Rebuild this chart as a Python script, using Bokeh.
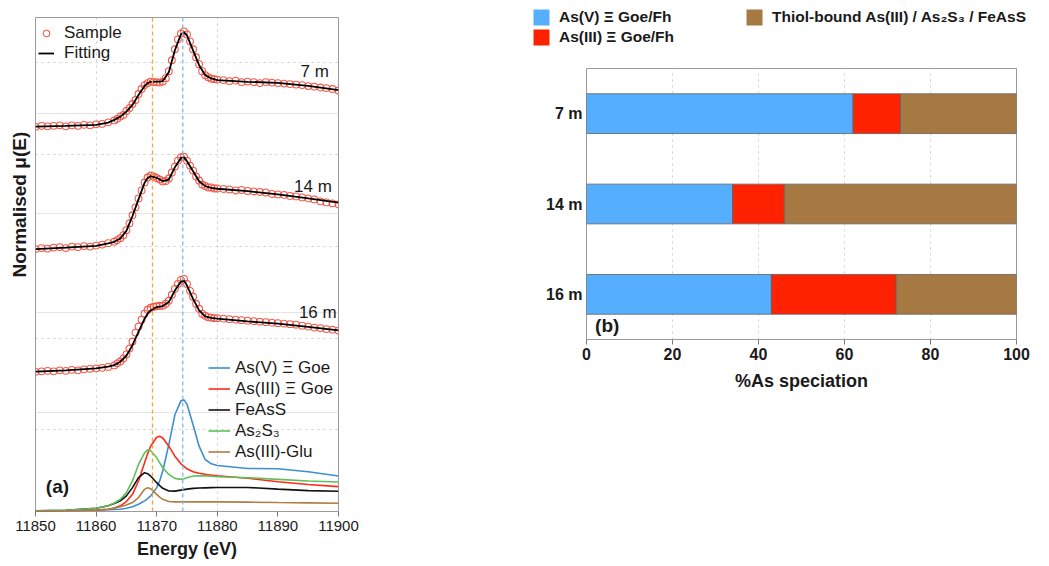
from bokeh.plotting import figure
from bokeh.models import (Range1d, FactorRange, FixedTicker, Grid, Span, Label, Title,
                          Legend, LegendItem, ColumnDataSource)
from bokeh.layouts import row, column
from bokeh.embed import file_html
from bokeh.resources import INLINE

FONT = "Liberation Sans"

# ---------------- Panel (a): XANES spectra ----------------
X_TICKS = [11850, 11860, 11870, 11880, 11890, 11900]
X_GRID = [11860, 11880]
Y_GRID = [0.82, 1.743, 2.667, 3.59, 4.514]
EDGE_LINES = [11869.3, 11874.3]

E_LINE = [11850, 11855, 11860, 11862, 11863, 11864, 11865, 11866, 11867, 11868,
          11868.5, 11869, 11870, 11870.5, 11871, 11872, 11873, 11874, 11874.5, 11875,
          11876, 11877, 11878, 11879, 11880, 11885, 11890, 11895, 11900]

FIT_7M = [3.873, 3.880, 3.890, 3.913, 3.940, 3.973, 4.023, 4.090, 4.190, 4.280,
          4.310, 4.323, 4.325, 4.325, 4.330, 4.420, 4.640, 4.800, 4.823, 4.790,
          4.640, 4.490, 4.390, 4.357, 4.340, 4.323, 4.313, 4.283, 4.240]
FIT_14M = [2.640, 2.655, 2.673, 2.697, 2.713, 2.747, 2.823, 2.973, 3.140, 3.307,
           3.355, 3.373, 3.357, 3.340, 3.323, 3.340, 3.463, 3.557, 3.563, 3.523,
           3.423, 3.323, 3.273, 3.257, 3.247, 3.223, 3.190, 3.150, 3.107]
FIT_16M = [1.407, 1.420, 1.440, 1.457, 1.473, 1.507, 1.567, 1.673, 1.807, 1.940,
           1.990, 2.023, 2.057, 2.062, 2.067, 2.107, 2.223, 2.313, 2.323, 2.273,
           2.140, 2.023, 1.963, 1.947, 1.940, 1.913, 1.890, 1.857, 1.823]

REF_ASV = [0.007, 0.008, 0.013, 0.017, 0.020, 0.023, 0.033, 0.047, 0.073, 0.107,
           0.130, 0.157, 0.240, 0.310, 0.407, 0.673, 0.973, 1.113, 1.123, 1.080,
           0.873, 0.657, 0.523, 0.480, 0.463, 0.433, 0.430, 0.400, 0.357]
REF_ASIII = [0.007, 0.008, 0.015, 0.023, 0.035, 0.057, 0.100, 0.173, 0.307, 0.490,
             0.580, 0.657, 0.747, 0.757, 0.740, 0.657, 0.557, 0.480, 0.455, 0.430,
             0.400, 0.385, 0.375, 0.367, 0.360, 0.335, 0.300, 0.272, 0.250]
REF_FEASS = [0.007, 0.012, 0.033, 0.057, 0.080, 0.107, 0.157, 0.240, 0.340, 0.390,
             0.380, 0.357, 0.290, 0.260, 0.233, 0.207, 0.205, 0.215, 0.220, 0.225,
             0.233, 0.236, 0.238, 0.240, 0.242, 0.242, 0.225, 0.210, 0.203]
REF_AS2S3 = [0.007, 0.012, 0.033, 0.057, 0.085, 0.123, 0.190, 0.307, 0.473, 0.590,
             0.620, 0.613, 0.540, 0.490, 0.440, 0.373, 0.333, 0.323, 0.330, 0.340,
             0.357, 0.360, 0.358, 0.355, 0.350, 0.340, 0.323, 0.307, 0.297]
REF_GLU = [0.004, 0.008, 0.015, 0.023, 0.033, 0.047, 0.065, 0.090, 0.140, 0.223,
           0.240, 0.230, 0.173, 0.145, 0.123, 0.100, 0.097, 0.097, 0.097, 0.097,
           0.097, 0.097, 0.097, 0.097, 0.097, 0.094, 0.090, 0.087, 0.083]

E_SAMPLE = [11850, 11851, 11852, 11853, 11854, 11855, 11856, 11857, 11858, 11859,
            11860, 11861, 11862,
            11863, 11863.5, 11864, 11864.5, 11865, 11865.5, 11866, 11866.5, 11867, 11867.5,
            11868, 11868.5, 11869, 11869.5, 11870, 11870.5, 11871, 11871.5, 11872, 11872.5,
            11873, 11873.5, 11874, 11874.5, 11875, 11875.5, 11876, 11876.5, 11877, 11877.5,
            11878, 11878.5, 11879, 11879.5, 11880,
            11881, 11882, 11883, 11884, 11885, 11886, 11887, 11888, 11889, 11890,
            11891, 11892, 11893, 11894, 11895, 11896, 11897, 11898, 11899, 11900]

SAMPLE_7M = [3.870, 3.880, 3.875, 3.880, 3.885, 3.875, 3.885, 3.880, 3.890, 3.885,
             3.895, 3.900, 3.915,
             3.935, 3.950, 3.975, 3.990, 4.030, 4.060, 4.100, 4.140, 4.200, 4.250,
             4.290, 4.310, 4.325, 4.320, 4.320, 4.315, 4.325, 4.360, 4.430, 4.540,
             4.650, 4.750, 4.810, 4.830, 4.800, 4.730, 4.650, 4.570, 4.500, 4.430,
             4.390, 4.370, 4.355, 4.350, 4.345,
             4.340, 4.330, 4.335, 4.320, 4.325, 4.320, 4.310, 4.320, 4.315, 4.310,
             4.305, 4.300, 4.295, 4.290, 4.280, 4.275, 4.265, 4.260, 4.250, 4.235]
SAMPLE_14M = [2.640, 2.650, 2.645, 2.655, 2.660, 2.650, 2.665, 2.660, 2.670, 2.665,
              2.675, 2.685, 2.700,
              2.715, 2.730, 2.750, 2.780, 2.830, 2.900, 2.980, 3.060, 3.150, 3.230,
              3.310, 3.360, 3.380, 3.370, 3.355, 3.340, 3.320, 3.325, 3.350, 3.410,
              3.470, 3.530, 3.565, 3.570, 3.530, 3.480, 3.430, 3.370, 3.330, 3.290,
              3.275, 3.260, 3.260, 3.250, 3.250,
              3.245, 3.240, 3.230, 3.235, 3.225, 3.220, 3.215, 3.210, 3.195, 3.190,
              3.185, 3.175, 3.170, 3.160, 3.150, 3.140, 3.120, 3.110, 3.100, 3.090]
SAMPLE_16M = [1.405, 1.410, 1.415, 1.410, 1.420, 1.415, 1.425, 1.420, 1.430, 1.435,
              1.440, 1.445, 1.455,
              1.470, 1.490, 1.510, 1.540, 1.580, 1.640, 1.710, 1.800, 1.860, 1.930,
              1.990, 2.030, 2.050, 2.060, 2.065, 2.070, 2.070, 2.090, 2.120, 2.180,
              2.240, 2.290, 2.330, 2.340, 2.290, 2.220, 2.160, 2.090, 2.040, 1.990,
              1.970, 1.955, 1.950, 1.945, 1.945,
              1.940, 1.935, 1.930, 1.925, 1.920, 1.915, 1.910, 1.905, 1.900, 1.895,
              1.890, 1.885, 1.880, 1.870, 1.860, 1.850, 1.845, 1.835, 1.830, 1.820]

SPECTRA = [("7 m", SAMPLE_7M, FIT_7M), ("14 m", SAMPLE_14M, FIT_14M), ("16 m", SAMPLE_16M, FIT_16M)]
DEPTH_LABEL_POS = [(11898.4, 4.43), (11898.9, 3.265), (11899.7, 2.0)]

REFS = [("As(V) Ξ Goe", REF_ASV, "#3D8FD1"),
        ("As(III) Ξ Goe", REF_ASIII, "#FF2A1A"),
        ("FeAsS", REF_FEASS, "#111111"),
        ("As₂S₃", REF_AS2S3, "#5CC15C"),
        ("As(III)-Glu", REF_GLU, "#B07E45")]

# ---------------- Panel (b): speciation bars ----------------
DEPTHS = ["7 m", "14 m", "16 m"]
AS_V = [62, 34, 43]
AS_III = [11, 12, 29]
THIOL = [27, 54, 28]
B_TICKS = [0, 20, 40, 60, 80, 100]
B_LABELS = ["As(V) Ξ Goe/Fh", "As(III) Ξ Goe/Fh", "Thiol-bound As(III) / As₂S₃ / FeAsS"]
B_COLORS = ["#56AEFF", "#FF2200", "#A67943"]

TXT = "#1a1a1a"

# ======== figure (a) ========
pa = figure(frame_width=303, frame_height=494, min_border_left=35, min_border_right=22,
            min_border_top=17, min_border_bottom=0, frame_align=False,
            x_range=Range1d(11850, 11900), y_range=Range1d(0, 4.97),
            y_axis_location=None, output_backend="svg", toolbar_location=None)
pa.outline_line_color = "#9b9b9b"
pa.outline_line_width = 1
pa.xaxis.ticker = FixedTicker(ticks=X_TICKS)
pa.xaxis.axis_line_color = None
pa.xaxis.major_tick_out = 5
pa.xaxis.major_tick_in = 0
pa.xaxis.minor_tick_out = 0
pa.xaxis.major_tick_line_color = "#7a7a7a"
pa.xaxis.major_label_standoff = 4
pa.xaxis.major_label_text_font = FONT
pa.xaxis.major_label_text_font_size = "15px"
pa.xaxis.major_label_text_color = TXT
pa.xaxis.axis_label = "Energy (eV)"
pa.xaxis.axis_label_standoff = 5
pa.xaxis.axis_label_text_font = FONT
pa.xaxis.axis_label_text_font_size = "18px"
pa.xaxis.axis_label_text_font_style = "bold"
pa.xaxis.axis_label_text_color = TXT
pa.xgrid.ticker = FixedTicker(ticks=X_GRID)
pa.xgrid.grid_line_dash = "dotted"
pa.xgrid.grid_line_color = "#cccccc"
pa.add_layout(Grid(dimension=1, ticker=FixedTicker(ticks=Y_GRID),
                   grid_line_dash="dotted", grid_line_color="#cccccc"))

ref_renderers = []
for name, vals, col in REFS:
    r = pa.line(E_LINE, vals, line_color=col, line_width=1.6)
    ref_renderers.append((name, r))

first = None
for name, samp, fit in SPECTRA:
    rs = pa.scatter(E_SAMPLE, samp, marker="circle", size=6.8, fill_color=None,
                    line_color="#F0594B", line_width=1.1)
    rf = pa.line(E_LINE, fit, line_color="black", line_width=1.8)
    if first is None:
        first = (rs, rf)

for loc, col in zip(EDGE_LINES, ["#F7A43A", "#86B6E0"]):
    pa.add_layout(Span(location=loc, dimension="height", line_color=col,
                       line_dash="4 3", line_width=1.3))

for (name, _, _), (lx, ly) in zip(SPECTRA, DEPTH_LABEL_POS):
    pa.add_layout(Label(x=lx, y=ly, text=name, text_align="right", text_baseline="middle",
                        text_font=FONT, text_font_size="17px", text_color=TXT))

pa.add_layout(Label(x=11851.7, y=0.255, text="(a)", text_align="left", text_baseline="middle",
                    text_font=FONT, text_font_size="19px", text_font_style="bold",
                    text_color=TXT))
pa.add_layout(Title(text="Normalised μ(E)", align="left", offset=234, vertical_align="bottom",
                    standoff=12, text_font=FONT, text_font_size="19px",
                    text_font_style="bold", text_color=TXT), "left")

leg1 = Legend(items=[LegendItem(label="Sample", renderers=[first[0]]),
                     LegendItem(label="Fitting", renderers=[first[1]])],
              location=(3, 448), glyph_width=16, glyph_height=20, label_height=20,
              spacing=0, padding=0, margin=0, label_standoff=10,
              label_text_font=FONT, label_text_font_size="17px", label_text_color=TXT,
              background_fill_alpha=0, border_line_color=None)
leg2 = Legend(items=[LegendItem(label=n, renderers=[r]) for n, r in ref_renderers],
              location=(173, 49), glyph_width=22, glyph_height=21, label_height=21,
              spacing=0, padding=0, margin=0, label_standoff=5,
              label_text_font=FONT, label_text_font_size="17px", label_text_color=TXT,
              background_fill_alpha=0, border_line_color=None)
pa.add_layout(leg1, "center")
pa.add_layout(leg2, "center")

# ======== legend strip for (b) ========
W_B = 670
lg = figure(width=W_B, height=68, min_border=0, frame_align=False,
            x_range=Range1d(0, 1), y_range=Range1d(0, 1),
            x_axis_location=None, y_axis_location=None,
            output_backend="svg", toolbar_location=None)
lg.outline_line_color = None
lg.grid.grid_line_color = None
# legend proxies: one swatch each, placed outside the visible range
proxies = [lg.quad(left=[5], right=[6], top=[6], bottom=[5], fill_color=c, line_color=None)
           for c in B_COLORS]
legb = Legend(items=[LegendItem(label=lab, renderers=[r]) for lab, r in zip(B_LABELS, proxies)],
              location=(171, 21), orientation="vertical", nrows=2,
              glyph_width=20, glyph_height=20, label_height=20, label_width=185,
              spacing=0, padding=0, margin=0, label_standoff=8,
              label_text_font=FONT, label_text_font_size="15.5px", label_text_font_style="bold",
              label_text_color=TXT, background_fill_alpha=0, border_line_color=None)
lg.add_layout(legb, "center")

# ======== figure (b) ========
src = ColumnDataSource(dict(depth=DEPTHS, asv=AS_V, asiii=AS_III, thiol=THIOL))
pb = figure(frame_width=430, frame_height=271, min_border_left=226, min_border_right=14,
            min_border_top=0, min_border_bottom=0, frame_align=False,
            x_range=Range1d(0, 100), y_range=FactorRange(factors=DEPTHS[::-1]),
            output_backend="svg", toolbar_location=None)
bars = pb.hbar_stack(["asv", "asiii", "thiol"], y="depth", height=0.44, source=src,
                     fill_color=B_COLORS, line_color="#5f5f5f", line_width=0.8)
pb.outline_line_color = "#9b9b9b"
pb.outline_line_width = 1
pb.xaxis.ticker = FixedTicker(ticks=B_TICKS)
pb.xaxis.axis_line_color = None
pb.xaxis.major_tick_out = 5
pb.xaxis.major_tick_in = 0
pb.xaxis.minor_tick_out = 0
pb.xaxis.major_tick_line_color = "#7a7a7a"
pb.xaxis.major_label_standoff = 3
pb.xaxis.major_label_text_font = FONT
pb.xaxis.major_label_text_font_size = "16px"
pb.xaxis.major_label_text_font_style = "bold"
pb.xaxis.major_label_text_color = TXT
pb.xaxis.axis_label = "%As speciation"
pb.xaxis.axis_label_standoff = 8
pb.xaxis.axis_label_text_font = FONT
pb.xaxis.axis_label_text_font_size = "18px"
pb.xaxis.axis_label_text_font_style = "bold"
pb.xaxis.axis_label_text_color = TXT
pb.yaxis.axis_line_color = None
pb.yaxis.major_tick_out = 0
pb.yaxis.major_tick_in = 0
pb.yaxis.major_label_standoff = 4
pb.yaxis.major_label_text_font = FONT
pb.yaxis.major_label_text_font_size = "16px"
pb.yaxis.major_label_text_font_style = "bold"
pb.yaxis.major_label_text_color = TXT
pb.ygrid.grid_line_color = None
pb.xgrid.grid_line_dash = "dotted"
pb.xgrid.grid_line_color = "#cfcfcf"
pb.add_layout(Label(x=2, y=0.15, text="(b)", text_align="left", text_baseline="middle",
                    text_font=FONT, text_font_size="19px", text_font_style="bold",
                    text_color=TXT))

layout = row(pa, column(lg, pb))
open("out.html", "w").write(file_html(layout, INLINE))
